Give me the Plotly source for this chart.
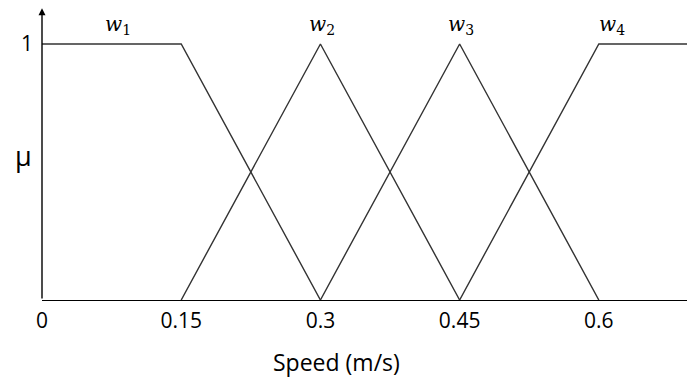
import plotly.graph_objects as go

# Membership functions
w1_x = [0, 0.15, 0.3]
w1_y = [1, 1, 0]
w2_x = [0.15, 0.3, 0.45]
w2_y = [0, 1, 0]
w3_x = [0.3, 0.45, 0.6]
w3_y = [0, 1, 0]
w4_x = [0.45, 0.6, 0.7]
w4_y = [0, 1, 1]

label_names = ["<i>w</i><sub>1</sub>", "<i>w</i><sub>2</sub>",
               "<i>w</i><sub>3</sub>", "<i>w</i><sub>4</sub>"]
label_x = [0.082, 0.302, 0.451, 0.614]

x_ticks = [0, 0.15, 0.3, 0.45, 0.6]
x_tick_text = ["0", "0.15", "0.3", "0.45", "0.6"]

fig = go.Figure()
for xs, ys in [(w1_x, w1_y), (w2_x, w2_y), (w3_x, w3_y), (w4_x, w4_y)]:
    fig.add_trace(go.Scatter(x=xs, y=ys, mode="lines",
                             line=dict(color="#333333", width=1.4),
                             showlegend=False, hoverinfo="skip"))

for name, lx in zip(label_names, label_x):
    fig.add_annotation(x=lx, y=1.074, xref="x", yref="y", text=name,
                       showarrow=False,
                       font=dict(family="DejaVu Serif", size=20, color="black"),
                       yanchor="middle", xanchor="center")

# y axis arrow
fig.add_annotation(x=0, y=1.14, ax=0, ay=0, xref="x", yref="y",
                   axref="x", ayref="y", showarrow=True, arrowhead=2,
                   arrowsize=1, arrowwidth=1.4, arrowcolor="black", text="")

# mu label
fig.add_annotation(x=-19 / 645, y=(300 - 155) / 292, xref="paper", yref="paper",
                   text="μ", showarrow=False, xanchor="center", yanchor="middle",
                   font=dict(family="Open Sans", size=27, color="black"))

# x title
fig.add_annotation(x=(336 - 42) / 645, y=-62 / 292, xref="paper", yref="paper",
                   text="Speed (m/s)", showarrow=False,
                   xanchor="center", yanchor="middle",
                   font=dict(family="Open Sans", size=23, color="black"))

fig.update_layout(
    width=687, height=379,
    margin=dict(l=42, r=0, t=8, b=79),
    plot_bgcolor="white", paper_bgcolor="white",
    xaxis=dict(range=[0, 0.695], tickvals=x_ticks, ticktext=x_tick_text,
               showgrid=False, zeroline=False, showline=True,
               linecolor="black", linewidth=1.4, ticks="",
               ticklabelstandoff=2,
               tickfont=dict(family="Open Sans", size=21, color="black")),
    yaxis=dict(range=[0, 1.1406], tickvals=[1], ticktext=["1"],
               showgrid=False, zeroline=False, showline=False, ticks="",
               ticklabelstandoff=8, automargin=False,
               tickfont=dict(family="Open Sans", size=21, color="black")),
)

fig.write_html("out.html", config={"displayModeBar": False},
               post_script="document.body.style.margin='0px';")
